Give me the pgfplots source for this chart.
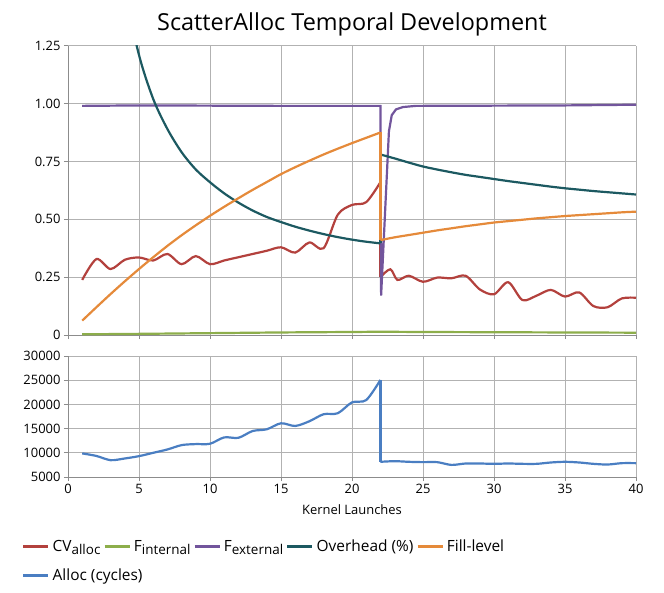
\documentclass[border=0pt]{standalone}
\usepackage{pgfplots}
\pgfplotsset{compat=1.18}
\usepackage{fontspec}
\setmainfont{Open Sans}
\definecolor{cvred}{HTML}{B3413D}
\definecolor{fgreen}{HTML}{8DAE4B}
\definecolor{fpurple}{HTML}{72559C}
\definecolor{ohteal}{HTML}{1C5961}
\definecolor{fillorange}{HTML}{E58A3A}
\definecolor{allocblue}{HTML}{4A7EC2}
\newcommand{\sub}[1]{\raisebox{-0.4ex}{\fontsize{13.5}{15}\selectfont #1}}
\pgfplotsset{
  mybase/.style={
    scale only axis, width=568bp,
    xmin=0, xmax=40,
    axis lines=left,
    axis line style={draw=black!45, line width=0.8bp, -},
    grid=major,
    major grid style={draw=black!30, line width=0.8bp},
    tick align=outside,
    major tick length=4bp,
    tick style={draw=black!45, line width=0.8bp},
    xtick={0,5,...,40},
    ticklabel style={font=\fontsize{13}{15}\selectfont},
    /pgf/number format/assume math mode=true,
    scaled y ticks=false,
    every axis plot/.append style={line width=2.2bp, no markers},
  },
}
\begin{document}
\begin{tikzpicture}
\useasboundingbox (-68bp,45.7bp) rectangle (596bp,-547.3bp);
\begin{axis}[mybase, name=top, at={(0,0)}, anchor=north west,
  height=289.3bp,
  ymin=0, ymax=1.25,
  ytick={0,0.25,0.5,0.75,1,1.25},
  yticklabels={0,0.25,0.50,0.75,1.00,1.25},
  xticklabels={},
  title={ScatterAlloc Temporal Development},
  title style={font=\fontsize{23.5}{27}\selectfont, yshift=0bp},
]
% CV alloc
\addplot[cvred, smooth] coordinates {(1,0.238)(2,0.328)(3,0.285)(4,0.325)(5,0.335)(6,0.322)(7,0.35)(8,0.306)(9,0.341)(10,0.306)(11,0.322)(12,0.336)(13,0.350)(14,0.364)(15,0.379)(16,0.356)(17,0.40)(18,0.375)(19,0.52)(20,0.562)(21,0.574)(22,0.66)};
\addplot[cvred] coordinates {(22,0.66)(22,0.25)};
\addplot[cvred, smooth] coordinates {(22,0.25)(22.7,0.284)(23.2,0.238)(24,0.256)(25,0.23)(26,0.248)(27,0.245)(28,0.256)(29,0.197)(30,0.176)(31,0.228)(32,0.151)(33,0.17)(34,0.195)(35,0.166)(36,0.184)(37,0.125)(38,0.12)(39,0.158)(40,0.161)};
% F internal
\addplot[fgreen, smooth] coordinates {(1,0.003)(5,0.005)(10,0.008)(15,0.011)(20,0.013)(22,0.014)(25,0.013)(30,0.012)(35,0.011)(40,0.01)};
% F external
\addplot[fpurple] coordinates {(1,0.99)(5,0.992)(10,0.991)(15,0.99)(22,0.99)(22.05,0.17)(22.6,0.88)(22.8,0.95)(23.1,0.975)(23.6,0.985)(24.5,0.99)(30,0.991)(35,0.992)(40,0.995)};
% Overhead
\addplot[ohteal, smooth] coordinates {(3,2.0)(4,1.5)(5,1.21)(6,1.02)(7,0.89)(8,0.79)(9,0.715)(10,0.66)(11,0.612)(12,0.572)(13,0.538)(14,0.51)(15,0.488)(16,0.468)(17,0.451)(18,0.436)(19,0.423)(20,0.412)(21,0.403)(22,0.396)};
\addplot[ohteal] coordinates {(22,0.396)(22,0.78)};
\addplot[ohteal, smooth] coordinates {(22,0.78)(23,0.763)(24,0.745)(25,0.728)(26,0.715)(27,0.703)(28,0.692)(29,0.683)(30,0.674)(31,0.665)(32,0.657)(33,0.649)(34,0.641)(35,0.634)(36,0.628)(37,0.622)(38,0.617)(39,0.612)(40,0.607)};
% Fill level
\addplot[fillorange, smooth] coordinates {(1,0.062)(2,0.12)(3,0.177)(4,0.232)(5,0.285)(6,0.336)(7,0.385)(8,0.431)(9,0.474)(10,0.515)(11,0.554)(12,0.591)(13,0.627)(14,0.661)(15,0.695)(16,0.725)(17,0.753)(18,0.78)(19,0.805)(20,0.829)(21,0.852)(22,0.875)};
\addplot[fillorange] coordinates {(22,0.875)(22,0.41)};
\addplot[fillorange, smooth] coordinates {(22,0.41)(23,0.422)(24,0.432)(25,0.442)(26,0.452)(27,0.461)(28,0.47)(29,0.478)(30,0.486)(31,0.492)(32,0.498)(33,0.504)(34,0.509)(35,0.514)(36,0.518)(37,0.522)(38,0.526)(39,0.53)(40,0.533)};
\end{axis}
\begin{axis}[mybase, name=bot, at={(0,-310.3bp)}, anchor=north west,
  height=121bp,
  ymin=5000, ymax=30000,
  ytick={5000,10000,...,30000},
  yticklabels={5000,10000,15000,20000,25000,30000},
  xlabel={Kernel Launches},
  xlabel style={font=\fontsize{13}{15}\selectfont, yshift=-4bp},
  legend columns=5,
  legend style={at={(-0.081,-0.50)}, anchor=north west, draw=none, fill=none,
    font=\fontsize{15.5}{18}\selectfont,
    /tikz/every even column/.append style={column sep=1bp},
    /tikz/every odd column/.append style={column sep=1bp},
    row sep=12bp, inner sep=0pt},
  legend cell align=left,
  legend image code/.code={\draw[#1, line width=2.5bp] (0bp,0bp) -- (25bp,0bp);},
]
\addlegendimage{cvred}\addlegendentry{CV\sub{alloc}}
\addlegendimage{fgreen}\addlegendentry{F\sub{internal}}
\addlegendimage{fpurple}\addlegendentry{F\sub{external}}
\addlegendimage{ohteal}\addlegendentry{Overhead (\%)}
\addlegendimage{fillorange}\addlegendentry{Fill-level}
\addplot[allocblue, smooth] coordinates {(1,9880)(2,9350)(3,8480)(4,8830)(5,9310)(6,10000)(7,10690)(8,11590)(9,11800)(10,11870)(11,13180)(12,13100)(13,14500)(14,14860)(15,16100)(16,15550)(17,16520)(18,17970)(19,18180)(20,20420)(21,20900)(22,25050)};
\addlegendentry{\makebox[0pt][l]{Alloc (cycles)}}
\addplot[allocblue, forget plot] coordinates {(22,25050)(22,8140)};
\addplot[allocblue, smooth, forget plot] coordinates {(22,8140)(23,8270)(24,8140)(25,8070)(26,8070)(27,7500)(28,7790)(29,7790)(30,7720)(31,7790)(32,7720)(33,7720)(34,8000)(35,8140)(36,8000)(37,7720)(38,7580)(39,7860)(40,7860)};
\end{axis}
\end{tikzpicture}
\end{document}
